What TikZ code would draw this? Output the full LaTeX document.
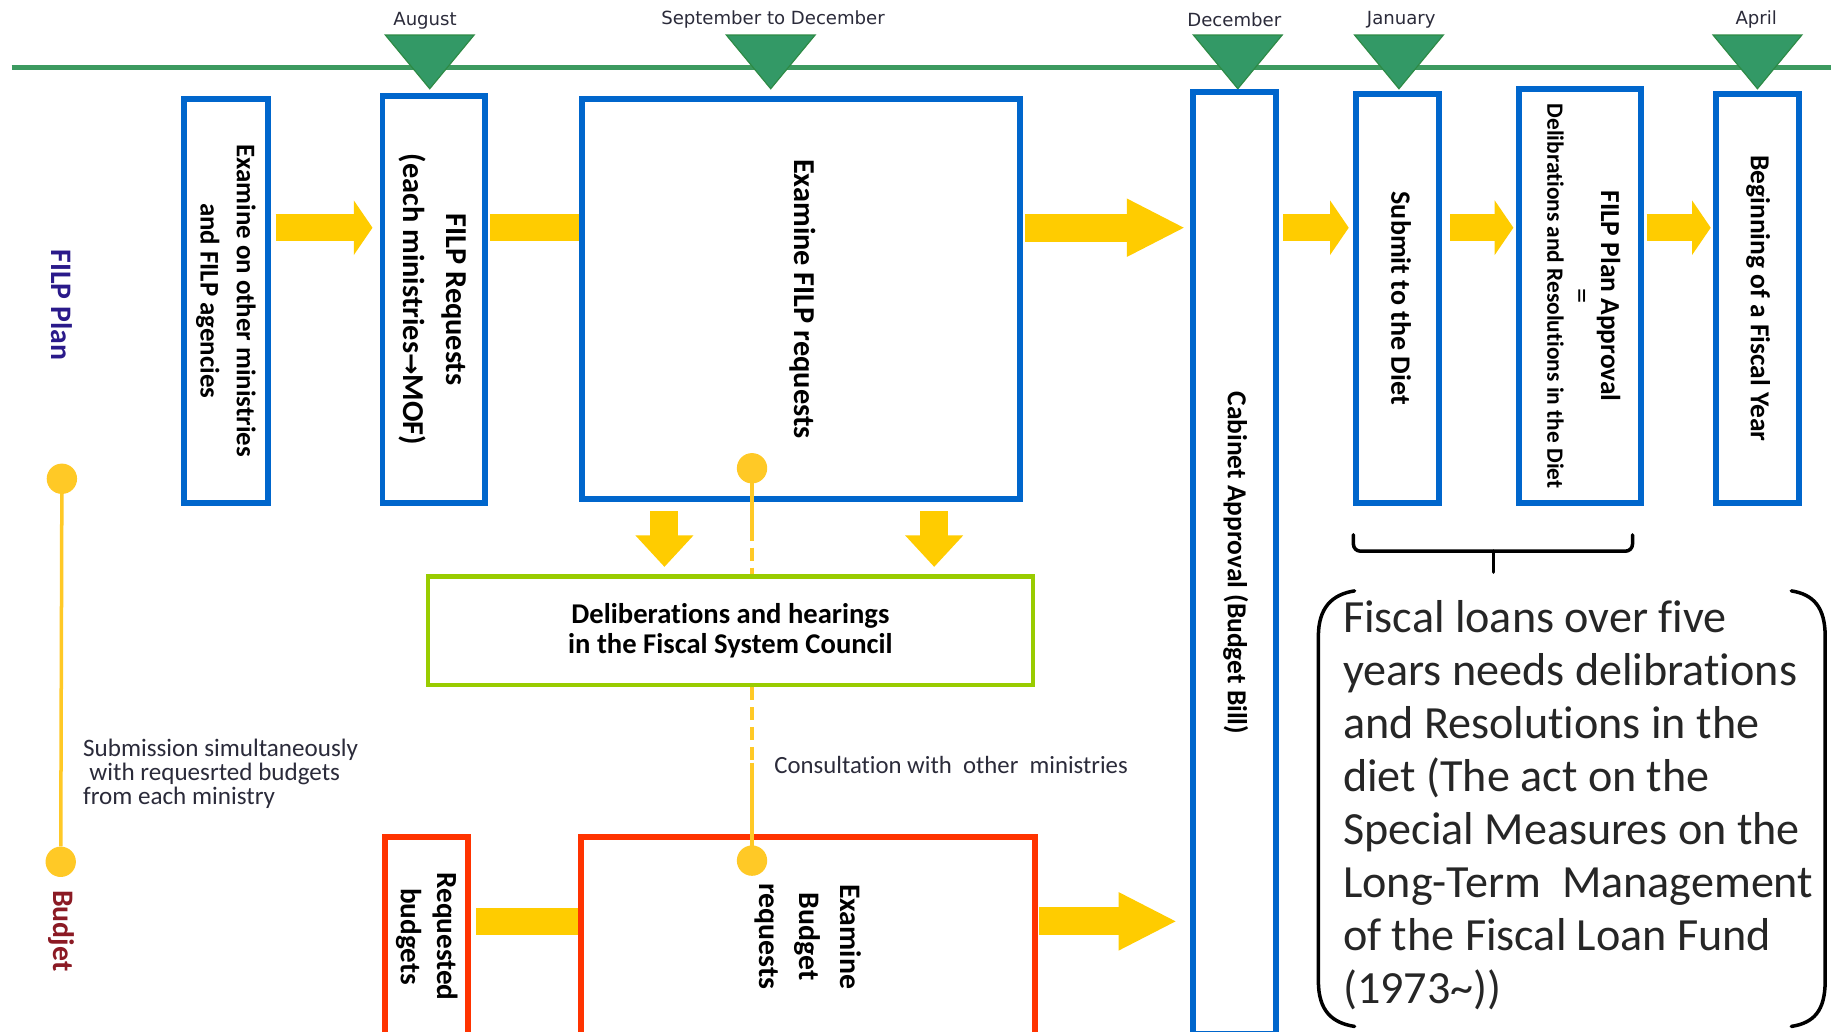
\documentclass[tikz,border=0pt]{standalone}
\usepackage{fontspec}
\usepackage{graphicx}
\setmainfont{Carlito}[Ligatures=CommonOff]
\newfontfamily\dejavu{DejaVu Sans}
\usetikzlibrary{arrows.meta,calc}
\definecolor{fblue}{HTML}{0066CC}
\definecolor{fyellow}{HTML}{FFCC00}
\definecolor{fdot}{HTML}{FFC926}
\definecolor{fgreen}{HTML}{339966}
\definecolor{fgreendk}{HTML}{2D8A45}
\definecolor{fgreenline}{HTML}{3C9A60}
\definecolor{flime}{HTML}{99CC00}
\definecolor{fred}{HTML}{FF3300}
\definecolor{fnavy}{HTML}{2A1A8A}
\definecolor{fmaroon}{HTML}{8B1A24}
\definecolor{fgrey}{HTML}{2B2B3A}
\newcommand\vtxt[3]{\rotatebox{-90}{\fontsize{#1}{#2}\selectfont\begin{tabular}{@{}c@{}}#3\end{tabular}}}
\tikzset{
  bluebox/.style={draw=fblue, line width=5pt, fill=white, inner sep=0pt, align=center, font=\bfseries},
  redbox/.style={draw=fred, line width=5pt, fill=white, inner sep=0pt, align=center, font=\bfseries},
  limebox/.style={draw=flime, line width=4pt, fill=white, inner sep=0pt, align=center},
  monthlbl/.style={inner sep=0pt, text=fgrey, font=\dejavu\fontsize{15.5}{18}\selectfont},
  yarrow/.style={draw=fyellow, line width=23pt, -{Triangle[length=16pt, width=46pt]}},
  ybigarrow/.style={draw=fyellow, line width=24pt, -{Triangle[length=50pt, width=46pt]}},
  ybar/.style={draw=fyellow, line width=23pt},
  ydown/.style={draw=fyellow, line width=24pt, -{Triangle[length=27pt, width=48pt]}},
  ydot/.style={circle, fill=fdot, minimum size=26pt, inner sep=0pt},
  yline/.style={draw=fdot, line width=3.5pt},
  ydash/.style={draw=fdot, line width=3.5pt, dash pattern=on 11pt off 6pt},
  tri/.style={fill=fgreen, draw=fgreendk, line width=1pt},
  blackline/.style={draw=black, line width=3pt, line cap=round}
}
\begin{document}
\begin{tikzpicture}[x=1pt,y=-1pt]
\useasboundingbox (0,0) rectangle (1568,883);
\fill[white] (0,0) rectangle (1568,883);

% timeline
\coordinate (tlL) at (10,58);
\coordinate (tlR) at (1568,58);
\draw[fgreenline, line width=4pt] (tlL) -- (tlR);
\foreach \x in {368,660,1060,1198,1505}{
  \filldraw[tri] ({\x-38},30) -- ({\x+38},30) -- (\x,76) -- cycle;
}
\node[monthlbl] (mAug) at (364,18) {August};
\node[monthlbl] (mSep) at (662,17) {September to December};
\node[monthlbl] (mDec) at (1057,17) {December};
\node[monthlbl] (mJan) at (1200,17) {January};
\node[monthlbl] (mApr) at (1504,17) {April};

% side labels
\node[rotate=-90, inner sep=0pt, text=fnavy, font=\bfseries\fontsize{25.5}{30}\selectfont] (lFILP) at (53,261) {FILP Plan};
\node[rotate=-90, inner sep=0pt, text=fmaroon, font=\bfseries\fontsize{25.5}{30}\selectfont] (lBud) at (53,797) {Budjet};

% blue boxes
\node[bluebox, minimum width=72pt, minimum height=346pt] (b1) at (193.5,257.5)
  {\vtxt{23}{31}{Examine on other ministries\\and FILP agencies}};
\node[bluebox, minimum width=88pt, minimum height=348pt] (b2) at (371.5,256.5)
  {\vtxt{26}{37}{FILP Requests\\(each ministries{\dejavu\fontsize{22}{26}\selectfont →}MOF)}};
\node[bluebox, minimum width=375pt, minimum height=343pt] (b3) at (686,256)
  {\vtxt{26}{30}{Examine FILP requests}};
\node[bluebox, minimum width=71pt, minimum height=807pt] (b4) at (1057,482)
  {\vtxt{23.5}{28}{Cabinet Approval (Budget Bill)}};
\node[bluebox, minimum width=71pt, minimum height=350pt] (b5) at (1197,255.5)
  {\vtxt{24}{28}{Submit to the Diet}};
\node[bluebox, minimum width=105pt, minimum height=354pt] (b6) at (1353,253.5)
  {\vtxt{20}{24}{{\fontsize{23.5}{26}\selectfont FILP Plan Approval}\\[1pt] {\mdseries\fontsize{26}{24}\selectfont =}\\[-3pt] Delibrations and Resolutions in the Diet}};
\node[bluebox, minimum width=71pt, minimum height=350pt] (b7) at (1505,255.5)
  {\vtxt{23.5}{28}{Beginning of a Fiscal Year}};

% council box
\node[limebox, minimum width=518pt, minimum height=93pt, font=\bfseries\fontsize{24.5}{25.5}\selectfont] (g) at (625.5,540)
  {Deliberations and hearings\\in the Fiscal System Council};

% red boxes
\node[redbox, minimum width=71pt, minimum height=171pt] (r1) at (365,802)
  {\vtxt{25}{31}{Requested\\budgets}};
\node[redbox, minimum width=389pt, minimum height=171pt] (r2) at (692,802)
  {\vtxt{25.5}{35}{Examine\\Budget\\requests}};

% yellow block arrows
\coordinate (rowA) at (0,195);
\coordinate (rowB) at (0,789);
\draw[yarrow] ($(b1.east |- rowA)+(4,0)$) -- ($(b2.west |- rowA)+(-6,0)$);
\draw[ybar] ($(b2.east |- rowA)+(2,0)$) -- (b3.west |- rowA);
\draw[ybigarrow] ($(b3.east |- rowA)+(2,0)$) -- ($(b4.west |- rowA)+(-4,0)$);
\draw[yarrow] ($(b4.east |- rowA)+(4,0)$) -- ($(b5.west |- rowA)+(-4,0)$);
\draw[yarrow] ($(b5.east |- rowA)+(7,0)$) -- ($(b6.west |- rowA)+(-2,0)$);
\draw[yarrow] ($(b6.east |- rowA)+(2,0)$) -- ($(b7.west |- rowA)+(-2,0)$);
\draw[ybar] ($(r1.east |- rowB)+(5,0)$) -- (r2.west |- rowB);
\draw[ybigarrow] ($(r2.east |- rowB)+(1,0)$) -- ($(b4.west |- rowB)+(-11,0)$);

% down arrows
\coordinate (xa) at (569,0);
\coordinate (xb) at (800,0);
\draw[ydown] ($(b3.south -| xa)+(0,8)$) -- ($(g.north -| xa)+(0,-6)$);
\draw[ydown] ($(b3.south -| xb)+(0,8)$) -- ($(g.north -| xb)+(0,-6)$);

% left timeline of submission
\node[ydot] (d1) at (53,410) {};
\node[ydot] (d2) at (52,738) {};
\draw[yline, line width=3pt] (d1) -- (d2);
\node[anchor=north west, inner sep=0pt, align=left, text=fgrey, font=\fontsize{21.5}{20.5}\selectfont] (sub) at (71,633)
  {Submission simultaneously\\\hspace{0.25em}with requesrted budgets\\from each ministry};

% consultation line
\node[ydot] (d3) at (644,401) {};
\node[ydot] (d4) at (644,737) {};
\coordinate (m1) at (644,452);
\coordinate (m2) at (644,653);
\draw[yline] (d3.center) -- (m1);
\draw[ydash] (m1) -- (g.north -| m1);
\draw[ydash] (g.south -| m2) -- (m2);
\draw[yline] (m2) -- (d4.center);
\node[anchor=west, inner sep=0pt, text=fgrey, font=\fontsize{21.2}{22}\selectfont] (cons) at (663,655)
  {Consultation with\ \ other\ \ ministries};

% brace under Diet boxes
\coordinate (brL) at (1159,458);
\coordinate (brR) at (1398,458);
\coordinate (brM) at (1279,472);
\draw[blackline, rounded corners=6pt] (brL) -- (brL |- brM) -- (brR |- brM) -- (brR);
\draw[blackline] (brM) -- (1279,490);

% parenthesised note
\draw[blackline] (1160,506) .. controls (1141,509) and (1129,520) .. (1129,545) -- (1129,840) .. controls (1129,866) and (1141,876) .. (1160,879);
\draw[blackline] (1534,506) .. controls (1553,509) and (1563,520) .. (1563,545) -- (1563,840) .. controls (1563,866) and (1553,876) .. (1534,879);
\node[anchor=north west, inner sep=0pt, align=left, text=black!85, font=\fontsize{39.5}{45.4}\selectfont] (note) at (1150,514)
  {Fiscal loans over five\\years needs delibrations\\and Resolutions in the\\diet (The act on the\\Special Measures on the\\Long-Term\ \ Management\\of the Fiscal Loan Fund\\(1973\textasciitilde))};
\end{tikzpicture}
\end{document}
